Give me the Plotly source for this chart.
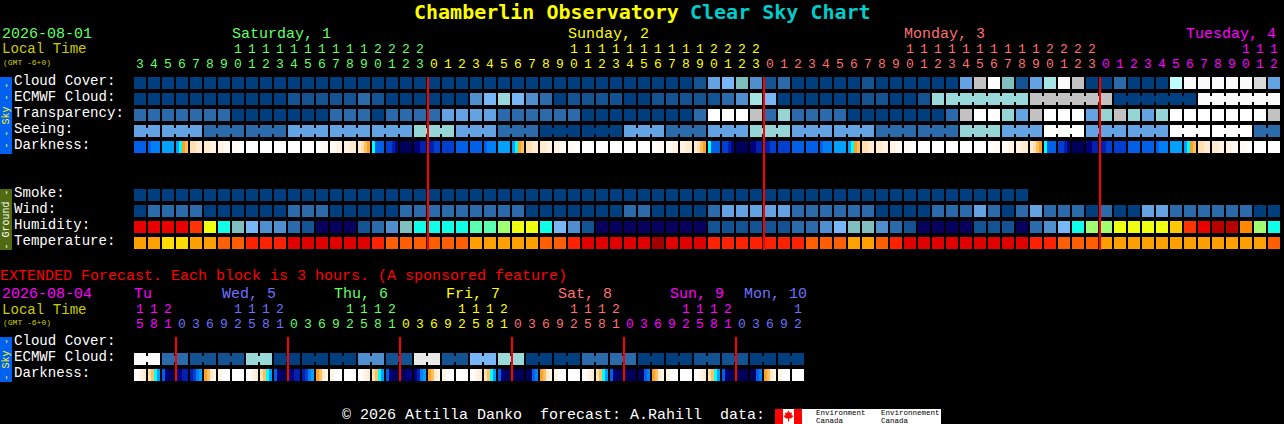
import plotly.graph_objects as go

W, H = 1284, 424
FONT = "Liberation Mono"
TITLE_FONT = "DejaVu Sans Mono"

# ---------------- data -----------------
HOURS = [3,4,5,6,7,8,9,10,11,12,13,14,15,16,17,18,19,20,21,22,23,
         0,1,2,3,4,5,6,7,8,9,10,11,12,13,14,15,16,17,18,19,20,21,22,23,
         0,1,2,3,4,5,6,7,8,9,10,11,12,13,14,15,16,17,18,19,20,21,22,23,
         0,1,2,3,4,5,6,7,8,9,10,11,12]
EXT_HOURS = [15,18,21,
             0,3,6,9,12,15,18,21, 0,3,6,9,12,15,18,21, 0,3,6,9,12,15,18,21,
             0,3,6,9,12,15,18,21, 0,3,6,9,12,15,18,21, 0,3,6,9,12]
DAY_SPANS = [(21, "#66FF66"), (24, "#FFFF00"), (24, "#FF7070"), (13, "#FF00FF")]
EXT_SPANS = [(3, "#FF00FF"), (8, "#7070FF"), (8, "#66FF66"), (8, "#FFFF00"),
             (8, "#FF7070"), (8, "#FF00FF"), (5, "#7070FF")]
DAY_LABELS = [("Saturday, 1", 232, "#66FF66"), ("Sunday, 2", 568, "#FFFF00"),
              ("Monday, 3", 904, "#FF7070"), ("Tuesday, 4", 1186, "#FF00FF")]
EXT_LABELS = [("Tu", 134, "#FF00FF"), ("Wed, 5", 222, "#7070FF"), ("Thu, 6", 334, "#66FF66"),
              ("Fri, 7", 446, "#FFFF00"), ("Sat, 8", 558, "#FF7070"), ("Sun, 9", 670, "#FF00FF"),
              ("Mon, 10", 744, "#7070FF")]
MIDNIGHTS = [21, 45, 69]
EXT_MIDNIGHTS = [3, 11, 19, 27, 35, 43]

CLOUD = ("A A A A A A A A A A A A A A A A A A A A A "
         "A A A A A A A A A A A A A A A A A A A B E F T D "
         "B C A A A A A B A A A A A A E G Z T B E W Y G A "
         "A C A A A X Y Y Y Y Y H E").split()
ECMWF = ("A A A A A A A A A A A B B B B B C B A A A "
         "A A A D F V F D C A B B B B A A B B B B B C D W "
         "F A A A A A A B B A A B V V V V V V V G G G G G "
         "G A A A A A A Y Y Y Y Y Y").split()
TRANSP = ("C C C C C C C A A A A A A A C C C A C C C "
          "C E E E E C C C C C C A A A A A A A A C Z Z Z G "
          "C U C C C C A A A A A A A C G Z Z U E G Z Z Z E "
          "U G U E U Z Z Z Z Z Z Z G").split()
SEEING_BLOCKS = "E E C C E E E U E C A A E C E U E E C C U E Z E E Z Z C".split()
SEEING_LENS = [2,3,3,3,3,3,3,3,3,3,3,3,3,3,3,3,3,3,3,3,3,3,3,3,3,3,3,2]
ECMWF_JOINS = [(58, 63), (64, 69), (70, 75), (76, 81)]
SMOKE = ("A A A A A A A A A A A A A A A A A A A A A "
         "A A A A A A A A A A A A A A A A A A A A A A A A "
         "A A A A A A A A A A A A A A A A A A A").split()
WIND = ("A C C C C A A A A A A C C C A A A A A C C "
        "C C C C C C C A A A A A A A C C A A A A C E E E "
        "E E C C C C C C A A A A C C C E C A C E C C C A "
        "C A A E E C C C C C C A A").split()
HUMID = ("R R R R O y c T F D D C B N N N B C D T c "
         "c c c m m l y y c F D B N N N N N N N N B B B B "
         "B B C C D F T T D C B N N N N B B B N C D F c l "
         "l y y y y Q O R r r o l c").split()
TEMP = ("ta ta tb tb ta ta tc tc td td td te te te te te te td tc tc tc "
        "tc tc tc ta ta ta ta ta tc tc td te te te te te tf te te te td td td td "
        "td td td tc tc tc ta ta tc td te te te te te te te te te td td tc tc tc "
        "ta ta ta ta ta ta ta ta ta ta ta ta tc").split()
DARK = ("4444 4555 6666 6789 aabb bbcc ccdd ddee eeee eeee eeee eeee eeee eedd ddcc ccbb ba98 7444 3321 0000 1122 "
        "2233 3333 4444 4444 4555 6666 6789 aabb bbcc ccdd ddee eeee eeee eeee eeee eeee eedd ddcc ccbb ba98 7444 3321 0000 1122 "
        "2233 3333 4444 4444 4555 6666 6789 aabb bbcc ccdd ddee eeee eeee eeee eeee eeee eedd ddcc ccbb ba98 7444 3321 0000 1122 "
        "2233 3333 4444 4444 4555 6666 6789 aabb bbcc ccdd ddee eeee eeee").split()
EXT_ECMWF_PAIRS = "Y C B B V A A A D B I B F V A A C C A A B B A A".split()
EXT_DARK = ("edcb a976 4100 1122 2356 89bc cdee eeee "
            "edcb a976 4100 1122 2356 89bc cdee eeee "
            "edcb a976 4100 0011 1256 89bc cdee eeee "
            "edcb a976 4100 0000 0045 89bc cdee eeee "
            "edcb a976 4100 0000 0045 89bc cdee eeee "
            "edcb a976 4100 0000 0045 89bc cdee eeee").split()

COLORS = {
    "A": "#003F7F", "B": "#135393", "C": "#2B6BAB", "D": "#4F8FCF", "E": "#63A3E3", "F": "#77B7F7",
    "T": "#7FBFBF", "U": "#95D5D5", "V": "#99D9D9", "W": "#A4E4E4", "X": "#C0FFFF",
    "G": "#C2C2C2", "H": "#D9D9D9", "I": "#E9E9E9", "Y": "#FAFAFA", "Z": "#FFFFFF",
    "N": "#08005F", "R": "#E80000", "r": "#B80000", "O": "#FF3300", "o": "#FF8800", "Q": "#FFC800",
    "y": "#EEFF10", "l": "#A0FF70", "m": "#5AFFB0", "c": "#10FFE8",
    "ta": "#FFA000", "tb": "#FFDD00", "tc": "#FF5F00", "td": "#FF2200", "te": "#E00000", "tf": "#A00000",
    "0": "#00005A", "1": "#000080", "2": "#0020B0", "3": "#0040D0", "4": "#0060E8", "5": "#0080F8",
    "6": "#00A0FF", "7": "#00FFFF", "8": "#FFA020", "9": "#FFC060", "a": "#FFE0B0", "b": "#FFECD0",
    "c_": "#FFF4E4", "d": "#FFFAF4", "e": "#FFFFFF",
}
CODES = list(COLORS)
# ---------------- helpers -----------------
scale = []
for k, code in enumerate(CODES):
    scale += [[k / len(CODES), COLORS[code]], [(k + 1) / len(CODES), COLORS[code]]]

def row_y(px):
    return (px - 83) / 16

def dark_code(ch):
    return "c_" if ch == "c" else ch

fig = go.Figure()

def add_row(cells, px_center):
    """cells: list of lists of palette codes, one inner list per block."""
    xs, zs = [], []
    for i, parts in enumerate(cells):
        step = (12 / 14) / len(parts)
        for k, code in enumerate(parts):
            xs.append(i - 6 / 14 + k * step)
            zs.append(CODES.index(code) + 0.5)
        xs.append(i + 6 / 14)
        zs.append(None)
    y = row_y(px_center)
    fig.add_trace(go.Heatmap(x=xs, y=[y - 6 / 16, y + 6 / 16], z=[zs[:-1]], colorscale=scale,
                             zmin=0, zmax=len(CODES), showscale=False, hoverinfo="skip",
                             zsmooth=False))

def add_joins(joins, codes, px_center, width=6):
    by_color = {}
    for a, b in joins:
        by_color.setdefault(COLORS[codes[a]], []).extend([a, b, None])
    y = row_y(px_center)
    for color, xs in by_color.items():
        fig.add_trace(go.Scatter(x=xs, y=[None if v is None else y for v in xs], mode="lines",
                                 line=dict(color=color, width=width), hoverinfo="skip", showlegend=False))

def expand_colors(spans):
    out = []
    for n, c in spans:
        out += [c] * n
    return out

SEEING, seeing_joins, start = [], [], 0
for v, n in zip(SEEING_BLOCKS, SEEING_LENS):
    SEEING += [v] * n
    seeing_joins.append((start, start + n - 1))
    start += n
EXT_ECMWF = [v for v in EXT_ECMWF_PAIRS for _ in (0, 1)]
ext_joins = [(2 * i, 2 * i + 1) for i in range(len(EXT_ECMWF_PAIRS))]

add_joins(ECMWF_JOINS, ECMWF, 99)
add_joins(seeing_joins, SEEING, 131)
add_joins(ext_joins, EXT_ECMWF, 359)

add_row([[v] for v in CLOUD], 83)
add_row([[v] for v in ECMWF], 99)
add_row([[v] for v in TRANSP], 115)
add_row([[v] for v in SEEING], 131)
add_row([[dark_code(c) for c in s] for s in DARK], 147)
add_row([[v] for v in SMOKE], 195)
add_row([[v] for v in WIND], 211)
add_row([[v] for v in HUMID], 227)
add_row([[v] for v in TEMP], 243)
add_row([[v] for v in EXT_ECMWF], 359)
add_row([[dark_code(c) for c in s] for s in EXT_DARK], 375)

# red midnight lines
lx, ly = [], []
for c in MIDNIGHTS:
    lx += [c - 6 / 14, c - 6 / 14, None]
    ly += [row_y(77), row_y(250), None]
for c in EXT_MIDNIGHTS:
    lx += [c - 6 / 14, c - 6 / 14, None]
    ly += [row_y(337), row_y(381), None]
fig.add_trace(go.Scatter(x=lx, y=ly, mode="lines", line=dict(color="#FF0000", width=2),
                         hoverinfo="skip", showlegend=False))

def add_digits(hours, spans, py_tens, py_units):
    colors = expand_colors(spans)
    xs = list(range(len(hours)))
    fig.add_trace(go.Scatter(x=xs, y=[row_y(py_units)] * len(xs), mode="text",
                             text=[str(h % 10) for h in hours],
                             textfont=dict(family=FONT, size=13, color=colors),
                             textposition="middle center", hoverinfo="skip", showlegend=False))
    fig.add_trace(go.Scatter(x=xs, y=[row_y(py_tens)] * len(xs), mode="text",
                             text=[str(h // 10) if h >= 10 else "" for h in hours],
                             textfont=dict(family=FONT, size=13, color=colors),
                             textposition="middle center", hoverinfo="skip", showlegend=False))

add_digits(HOURS, DAY_SPANS, 50, 65)
add_digits(EXT_HOURS, EXT_SPANS, 310, 325)

# ---------------- page furniture -----------------
anns, shapes = [], []

def label(text, x, y, color="#FFFFFF", size=14.1, bold=False, angle=0, anchor="left", family=FONT):
    if bold:
        text = "<b>%s</b>" % text
    anns.append(dict(text=text, x=x / W, y=1 - y / H, xref="paper", yref="paper", xanchor=anchor,
                     yanchor="middle", showarrow=False, textangle=angle, borderpad=0, borderwidth=0,
                     font=dict(family=family, size=size, color=color)))

def rect(x0, y0, x1, y1, color):
    shapes.append(dict(type="rect", xref="paper", yref="paper", x0=x0 / W, x1=x1 / W,
                       y0=1 - y0 / H, y1=1 - y1 / H, fillcolor=color, line=dict(width=0), layer="below"))

label("Chamberlin Observatory", 414, 12, "#FFFF00", 20, True, family=TITLE_FONT)
label("Clear Sky Chart", 690, 12, "#00CCCC", 20, True, family=TITLE_FONT)
for text, x, color in DAY_LABELS:
    label(text, x, 34, color, 15)
label("2026-08-01", 2, 34, "#66FF66", 15)
label("Local Time", 2, 49.5, "#CCCC00")
label("(GMT -6+0)", 3, 62.5, "#CCCC00", 8)
for text, y in [("Cloud Cover:", 81), ("ECMWF Cloud:", 97), ("Transparency:", 113), ("Seeing:", 129),
                ("Darkness:", 145), ("Smoke:", 193), ("Wind:", 209), ("Humidity:", 225),
                ("Temperature:", 241), ("Cloud Cover:", 341), ("ECMWF Cloud:", 357), ("Darkness:", 373)]:
    label(text, 14, y)
label("EXTENDED Forecast. Each block is 3 hours. (A sponsored feature)", 0, 276, "#FF0000", 15)
label("2026-08-04", 2, 294, "#FF00FF", 15)
label("Local Time", 2, 309.5, "#CCCC00")
label("(GMT -6+0)", 3, 322.5, "#CCCC00", 8)
for text, x, color in EXT_LABELS:
    label(text, x, 294, color, 15)

rect(0, 77, 12, 154, "#0060F0")
rect(0, 189, 12, 250, "#4F6A10")
rect(0, 337, 12, 382, "#0060F0")
label("- - Sky - -", 6, 115.5, "#FFFF00", 10, angle=-90, anchor="center")
label("- Ground -", 6, 219.5, "#FFFFFF", 10, angle=-90, anchor="center")
label("- Sky -", 6, 359.5, "#FFFF00", 10, angle=-90, anchor="center")

label("\u00a9 2026 Attilla Danko  forecast: A.Rahill  data:", 342, 415, "#FFFFFF", 15)
rect(775, 409, 941, 424, "#FFFFFF")
rect(775, 409, 783, 424, "#FF0000")
rect(794, 409, 802, 424, "#FF0000")
leaf = [(788.5, 410.5), (790, 413), (792, 412.5), (791.5, 415), (793.5, 416), (791, 418.5), (789, 418.5),
        (789, 421.5), (788, 421.5), (788, 418.5), (786, 418.5), (783.5, 416), (785.5, 415), (785, 412.5), (787, 413)]
path = "M " + " L ".join("%.5f,%.5f" % (x / W, 1 - y / H) for x, y in leaf) + " Z"
shapes.append(dict(type="path", path=path, xref="paper", yref="paper", fillcolor="#FF0000",
                   line=dict(width=0), layer="below"))
label("Environment", 816, 412.5, "#000000", 7.5)
label("Canada", 816, 421, "#000000", 7.5)
label("Environnement", 881, 412.5, "#000000", 7.5)
label("Canada", 881, 421, "#000000", 7.5)

fig.update_layout(
    width=W, height=H, margin=dict(l=0, r=0, t=0, b=0), paper_bgcolor="#000000", plot_bgcolor="rgba(0,0,0,0)",
    showlegend=False, annotations=anns, shapes=shapes,
    xaxis=dict(range=[-140 / 14, (W - 140) / 14], visible=False, fixedrange=True),
    yaxis=dict(range=[row_y(H), row_y(0)], visible=False, fixedrange=True),
)
fig.write_html("out.html", config=dict(displayModeBar=False, staticPlot=True),
               post_script="document.body.style.margin='0';document.body.style.background='#000';document.documentElement.style.overflow='hidden';")
